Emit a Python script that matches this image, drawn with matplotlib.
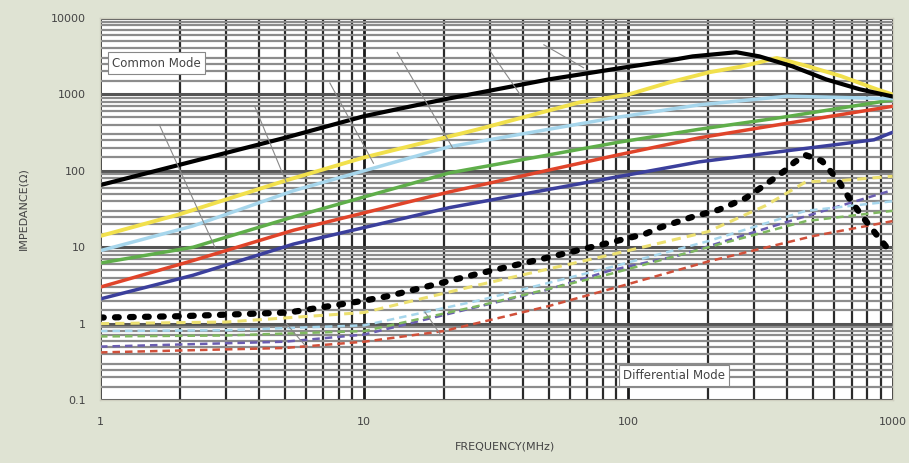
import numpy as np
import matplotlib.pyplot as plt
from matplotlib.ticker import LogLocator, NullFormatter

# -------------------------------
# Common mode impedance curves (solid)
# -------------------------------
cm_black_f = [1, 2, 5, 10, 20, 50, 100, 130, 175, 256, 313, 418, 560, 750, 1000]
cm_black_z = [65, 120, 270, 520, 860, 1575, 2300, 2630, 3150, 3570, 3150, 2330, 1575, 1170, 940]

cm_yellow_f = [1, 2, 5, 10, 27, 65, 100, 143, 202, 270, 364, 480, 640, 870, 1000]
cm_yellow_z = [14, 27, 74, 150, 350, 785, 1000, 1440, 1950, 2330, 3000, 2330, 1730, 1170, 1000]

cm_cyan_f = [1, 2.25, 5.4, 21, 90, 185, 400, 1000]
cm_cyan_z = [9.0, 19, 55, 207, 500, 730, 950, 880]

cm_green_f = [1, 2.25, 5.4, 21, 90, 185, 380, 1000]
cm_green_z = [6.2, 10, 25, 94, 234, 350, 500, 850]

cm_red_f = [1, 2.25, 5.4, 21, 90, 185, 400, 1000]
cm_red_z = [3.0, 6.7, 16.7, 53, 160, 270, 420, 700]

cm_blue_f = [1, 2.25, 5.4, 21, 90, 185, 850, 1000]
cm_blue_z = [2.1, 4.3, 11, 33, 83, 131, 255, 320]

# -------------------------------
# Differential mode impedance curves (dashed)
# -------------------------------
dm_black_f = [1, 2, 5.2, 10, 12.4, 27, 48.5, 86, 116, 131, 175, 220, 278, 330, 390,
              425, 470, 540, 585, 630, 690, 770, 870, 1000]
dm_black_z = [1.2, 1.25, 1.4, 2.0, 2.3, 4.5, 7.2, 11.6, 15, 18, 25, 31, 44, 66, 100,
              130, 160, 135, 97, 70, 42, 25, 14.5, 8]

dm_yellow_f = [1, 3, 10, 27, 86, 200, 330, 470, 650, 1000]
dm_yellow_z = [1.0, 1.05, 1.4, 3.2, 8, 16, 35, 72, 75, 85]

dm_cyan_f = [1, 3, 10, 27, 86, 200, 470, 1000]
dm_cyan_z = [0.8, 0.82, 0.95, 2.0, 5.5, 12, 30, 40]

dm_green_f = [1, 3, 10, 27, 86, 200, 470, 1000]
dm_green_z = [0.68, 0.7, 0.8, 1.7, 4.5, 10, 22, 30]

dm_red_f = [1, 5, 10, 20, 50, 100, 200, 500, 1000]
dm_red_z = [0.42, 0.48, 0.58, 0.8, 1.7, 3.3, 6.5, 14, 22]

dm_purple_f = [1, 5, 10, 21, 48, 86, 155, 390, 1000]
dm_purple_z = [0.5, 0.58, 0.72, 1.35, 2.7, 5.0, 7.8, 21, 56]

y_ticks = [0.1, 1, 10, 100, 1000, 10000]
y_tick_labels = ["0.1", "1", "10", "100", "1000", "10000"]
x_ticks = [1, 10, 100, 1000]
x_tick_labels = ["1", "10", "100", "1000"]

# -------------------------------
# Figure
# -------------------------------
bg = "#dfe3d3"
fig = plt.figure(figsize=(9.09, 4.63), dpi=100, facecolor=bg)
ax = fig.add_axes([0.110, 0.136, 0.872, 0.825])
ax.set_facecolor("white")
ax.set_xscale("log")
ax.set_yscale("log")
ax.set_xlim(1, 1000)
ax.set_ylim(0.1, 10000)

# grid: heavy black verticals, grey horizontal bands
ax.xaxis.set_minor_locator(LogLocator(base=10, subs=np.arange(2, 10)))
ax.yaxis.set_minor_locator(LogLocator(base=10, subs=[1.5, 2, 2.5, 3, 4, 5, 6, 7, 8, 9]))
ax.xaxis.set_minor_formatter(NullFormatter())
ax.yaxis.set_minor_formatter(NullFormatter())
ax.grid(True, which="major", axis="x", color="#1a1a1a", lw=2.0)
ax.grid(True, which="minor", axis="x", color="#2a2a2a", lw=1.6)
ax.grid(True, which="major", axis="y", color="#555555", lw=2.2)
ax.grid(True, which="minor", axis="y", color="#8c8c8c", lw=1.6)
ax.set_axisbelow(True)

# common mode
ax.plot(cm_blue_f, cm_blue_z, color="#3b3f9c", lw=2.5)
ax.plot(cm_red_f, cm_red_z, color="#e0442a", lw=2.5)
ax.plot(cm_green_f, cm_green_z, color="#5fae4a", lw=2.5)
ax.plot(cm_cyan_f, cm_cyan_z, color="#a6d6ec", lw=2.5)
ax.plot(cm_yellow_f, cm_yellow_z, color="#f1e04c", lw=2.8)
ax.plot(cm_black_f, cm_black_z, color="black", lw=3.0)

# differential mode
dash = (0, (3, 2))
ax.plot(dm_red_f, dm_red_z, color="#d0503a", lw=1.8, ls=dash)
ax.plot(dm_purple_f, dm_purple_z, color="#6a5db0", lw=1.8, ls=dash)
ax.plot(dm_green_f, dm_green_z, color="#7fb860", lw=1.8, ls=dash)
ax.plot(dm_cyan_f, dm_cyan_z, color="#a6d6ec", lw=1.8, ls=dash)
ax.plot(dm_yellow_f, dm_yellow_z, color="#ece070", lw=2.2, ls=dash)
ax.plot(dm_black_f, dm_black_z, color="black", lw=4.5, ls=(0, (0.6, 1.8)),
        dash_capstyle="round")

# mode labels
box = dict(boxstyle="square,pad=0.35", fc="white", ec="#888888", lw=0.8)
ax.text(0.015, 0.882, "Common Mode", transform=ax.transAxes, fontsize=8.5,
        color="#444444", va="center", ha="left", bbox=box)
ax.text(0.66, 0.065, "Differential Mode", transform=ax.transAxes, fontsize=8.5,
        color="#444444", va="center", ha="left", bbox=box)

# leader lines of the small curve tags
leaders = [((0.075, 0.72), (0.145, 0.40)), ((0.195, 0.77), (0.235, 0.57)),
           ((0.29, 0.83), (0.345, 0.62)), ((0.375, 0.91), (0.445, 0.66)),
           ((0.49, 0.92), (0.53, 0.80)), ((0.56, 0.93), (0.61, 0.87)),
           ((0.235, 0.20), (0.26, 0.14)), ((0.41, 0.23), (0.43, 0.17))]
for (x0, y0), (x1, y1) in leaders:
    ax.plot([x0, x1], [y0, y1], transform=ax.transAxes, color="#888888", lw=0.8)

# ticks and labels
ax.set_xticks(x_ticks)
ax.set_xticklabels(x_tick_labels)
ax.set_yticks(y_ticks)
ax.set_yticklabels(y_tick_labels)
ax.tick_params(which="both", length=0, labelsize=8, labelcolor="#444444")
ax.tick_params(axis="x", pad=12)
ax.tick_params(axis="y", pad=10)
for s in ax.spines.values():
    s.set_color("#cfcfc0")
    s.set_linewidth(1.0)

fig.text(0.556, 0.035, "FREQUENCY(MHz)", ha="center", va="center", fontsize=8, color="#444444")
fig.text(0.026, 0.55, "IMPEDANCE(Ω)", ha="center", va="center", rotation=90,
         fontsize=8, color="#444444")

plt.savefig("out.png", dpi=100, facecolor=bg)
